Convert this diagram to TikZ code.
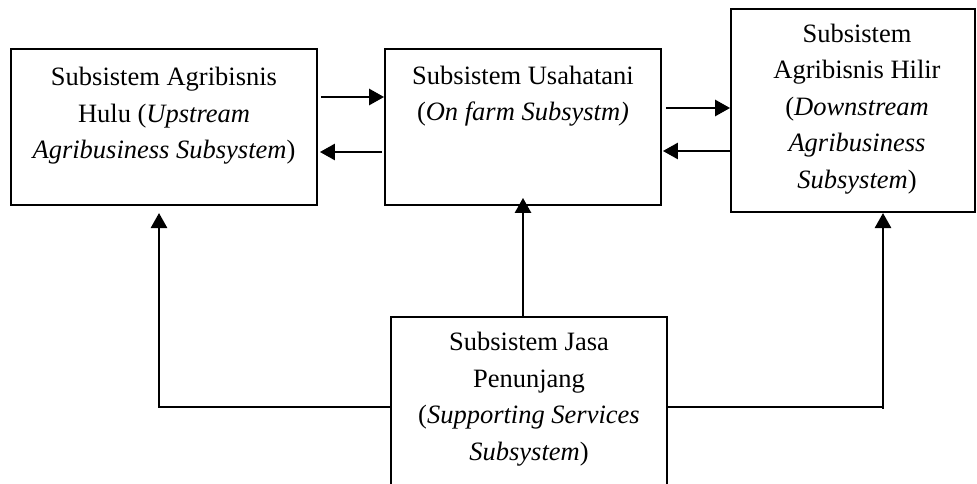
\documentclass[tikz,border=0pt]{standalone}
\usepackage{fontspec}
\setmainfont{Liberation Serif}
\usetikzlibrary{arrows.meta}
\begin{document}
\begin{tikzpicture}[x=1pt,y=-1pt,
  box/.style={draw, line width=1.8pt, inner sep=0pt, rectangle},
  txt/.style={align=center, inner sep=0pt, font=\fontsize{26.5}{36.5}\selectfont},
  arr/.style={line width=2.6pt, -{Triangle[length=15pt,width=16pt]}}]
\useasboundingbox (0,0) rectangle (977,484);
\clip (0,0) rectangle (977,484);
% boxes
\node[box, minimum width=306pt, minimum height=156pt] (A) at (164,127) {};
\node[box, minimum width=276pt, minimum height=156pt] (B) at (523,127) {};
\node[box, minimum width=244pt, minimum height=203pt] (C) at (853,110.5) {};
\node[box, minimum width=276pt, minimum height=180pt] (D) at (529,407) {};
% texts
\node[txt] (tA) at (164,116) {Subsistem Agribisnis\\Hulu (\textit{Upstream}\\\textit{Agribusiness Subsystem})};
\node[txt] (tB) at (523,96) {Subsistem Usahatani\\(\textit{On farm Subsystm)}};
\node[txt] (tC) at (857,109) {Subsistem\\Agribisnis Hilir\\(\textit{Downstream}\\\textit{Agribusiness}\\\textit{Subsystem})};
\node[txt] (tD) at (529,399) {Subsistem Jasa\\Penunjang\\(\textit{Supporting Services}\\\textit{Subsystem})};
% helper coordinates
\coordinate (y1) at (0,97);
\coordinate (y2) at (0,152);
\coordinate (y3) at (0,108);
\coordinate (y4) at (0,151);
\coordinate (la) at (159,213);
\coordinate (ra) at (883,213);
\coordinate (rb) at (883,409);
% horizontal arrows
\draw[arr] ([xshift=3pt]A.east |- y1) -- (B.west |- y1);
\draw[arr] ([xshift=-2pt]B.west |- y2) -- ([xshift=2pt]A.east |- y2);
\draw[arr] ([xshift=4pt]B.east |- y3) -- (C.west |- y3);
\draw[arr] (C.west |- y4) -- ([xshift=1pt]B.east |- y4);
% supporting connectors
\draw[arr] (B.south |- D.north) -- ([yshift=8pt]B.south);
\draw[arr] (D.west) -| (la);
\draw[arr] (D.east) -| (ra);
\draw[line width=2.6pt] (D.east -| rb) -- (rb);
\end{tikzpicture}
\end{document}
